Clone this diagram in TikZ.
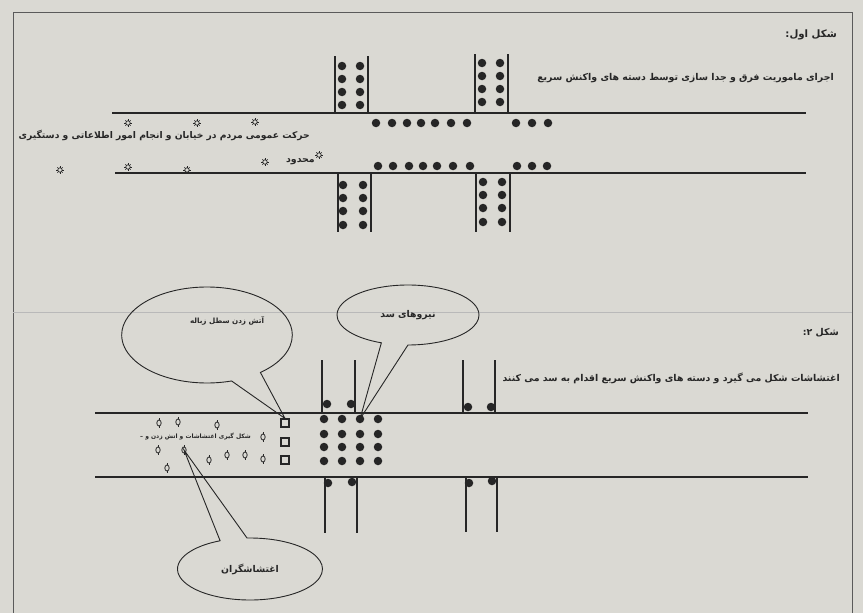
\documentclass[tikz,border=0pt]{standalone}
\usepackage{fontspec}
\newfontfamily\arabicfont[Script=Arabic]{DejaVu Sans}
\TeXXeTstate=1
\usetikzlibrary{shapes.callouts}
\definecolor{PaperBg}{HTML}{DAD9D3}
\definecolor{Ink}{HTML}{262626}
\definecolor{FrameGrey}{HTML}{5A5A5A}
\newcommand{\pertext}[1]{{\arabicfont\bfseries\beginR #1\endR}}

\begin{document}
\begin{tikzpicture}[x=1pt,y=-1pt,
    street/.style={draw=Ink,line width=1.3pt},
    cross/.style={draw=Ink,line width=1.2pt},
    unit/.style={circle,fill=Ink,inner sep=0pt,minimum size=8.5pt},
    bin/.style={draw=Ink,line width=1.1pt,inner sep=0pt,minimum size=8pt},
    lbl/.style={font=\fontsize{9.4}{10}\selectfont,text=Ink,inner sep=0pt,anchor=east},
    bubble/.style={ellipse callout,draw=Ink,line width=0.9pt,callout pointer arc=22,
                   font=\fontsize{9.3}{10}\selectfont,text=Ink},
    person/.pic={
      \draw[Ink,line width=0.7pt] (0,0) circle[radius=2.2pt];
      \foreach \a in {0,45,...,315} \draw[Ink,line width=0.6pt] (\a:2.2pt) -- (\a:3.8pt);
      \coordinate (-c) at (0,0);
    },
    rioter/.pic={
      \draw[Ink,line width=0.8pt] (0,0) ellipse[x radius=2.2pt,y radius=3pt];
      \draw[Ink,line width=0.6pt] (0,3pt) -- (0,4.8pt) (0,-3pt) -- (0,-4.8pt);
      \coordinate (-c) at (0,0);
    }]
  \fill[PaperBg] (0,0) rectangle (863,613);
  \useasboundingbox (0,0) rectangle (863,613);
  \draw[FrameGrey,line width=1pt] (13,613) -- (13,12) -- (852,12) -- (852,613);
  \draw[gray!55,line width=0.4pt] (13,312) -- (852,312);

  % first figure
  \node[lbl,font=\fontsize{10.2}{11}\selectfont] (fig1) at (837,35) {\pertext{شکل اول:}};
  \node[lbl] (task1)   at (834,78)  {\pertext{اجرای ماموریت فرق و جدا سازی توسط دسته های واکنش سریع}};
  \draw[street] (112,113) -- (806,113);
  \draw[street] (115,173) -- (806,173);
  \foreach \xa/\xb/\ya/\yb in {335/368/56/113, 475/508/54/113, 338/371/173/232, 476/510/173/232}
    \draw[cross] (\xa,\ya) -- (\xa,\yb) (\xb,\ya) -- (\xb,\yb);
  \foreach \x in {342,360} \foreach \y in {66,79,92,105} \node[unit] (a-\x-\y) at (\x,\y) {};
  \foreach \x in {482,500} \foreach \y in {63,76,89,102} \node[unit] (b-\x-\y) at (\x,\y) {};
  \foreach \x in {343,363} \foreach \y in {185,198,211,225} \node[unit] (c-\x-\y) at (\x,\y) {};
  \foreach \x in {483,502} \foreach \y in {182,195,208,222} \node[unit] (d-\x-\y) at (\x,\y) {};
  \foreach \x in {376,392,407,421,435,451,467,516,532,548} \node[unit] (up-\x) at (\x,123) {};
  \foreach \x in {378,393,409,423,437,453,470,517,532,547} \node[unit] (lo-\x) at (\x,166) {};
  \foreach \x/\y [count=\i] in {128/123,197/123,255/122,319/155,60/170,128/167,187/170,265/162}
    \pic (p\i) at (\x,\y) {person};
  \node[lbl,font=\fontsize{9.2}{10}\selectfont] (crowd) at (310,135) {\pertext{حرکت عمومی مردم در خیابان و انجام امور اطلاعاتی و دستگیری}};
  \node[lbl] (limited) at (315,162) {\pertext{محدود}};

  % second figure
  \node[lbl] (fig2)    at (839,333) {\pertext{شکل ۲:}};
  \node[lbl] (task2)   at (840,378) {\pertext{اغتشاشات شکل می گیرد و دسته های واکنش سریع اقدام به سد می کنند}};
  \draw[street] (95,413) -- (808,413);
  \draw[street] (95,477) -- (808,477);
  \foreach \xa/\xb/\ya/\yb in {322/355/360/413, 463/495/360/413, 325/357/477/533, 466/497/477/532}
    \draw[cross] (\xa,\ya) -- (\xa,\yb) (\xb,\ya) -- (\xb,\yb);
  \foreach \x/\y [count=\i] in {327/404,351/404,468/407,491/407,328/483,352/482,469/483,492/481}
    \node[unit] (k\i) at (\x,\y) {};
  \foreach \c/\x in {1/324,2/342,3/360,4/378}
    \foreach \r/\y in {1/419,2/434,3/447,4/461}
      \node[unit] (g-\c-\r) at (\x,\y) {};
  \foreach \y [count=\i] in {423,442,460} \node[bin] (bin\i) at (285,\y) {};
  \foreach \x/\y [count=\i] in {159/423,178/422,217/425,263/437,158/450,184/450,209/460,227/455,245/455,263/459,167/468}
    \pic (r\i) at (\x,\y) {rioter};
  \node[lbl,font=\fontsize{6}{7}\selectfont] (riot) at (251,437) {\pertext{شکل گیری اغتشاشات و اتش زدن و –}};

  \node[bubble,font=\fontsize{7.2}{8}\selectfont,minimum width=170pt,minimum height=96pt,
        callout absolute pointer={(bin1.north)}]
    (fire) at (207,335) {\hspace*{40pt}\raisebox{30pt}{\pertext{آتش زدن سطل زباله}}};
  \node[bubble,minimum width=142pt,minimum height=60pt,callout absolute pointer={(g-3-1.center)}]
    (block) at (408,315) {\pertext{نیروهای سد}};
  \node[bubble,minimum width=145pt,minimum height=62pt,callout absolute pointer={(r6-c)}]
    (rioters) at (250,569) {\pertext{اغتشاشگران}};
\end{tikzpicture}
\end{document}
